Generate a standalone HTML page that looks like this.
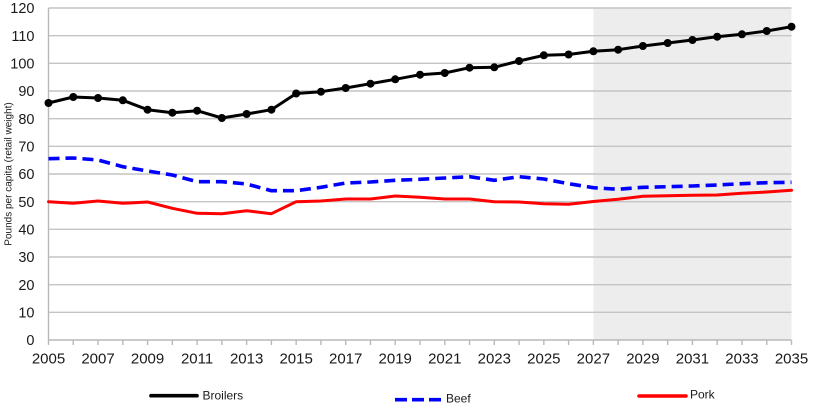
<!DOCTYPE html>
<html>
<head>
<meta charset="utf-8">
<style>
  html, body { margin: 0; padding: 0; background: #ffffff; }
  svg { display: block; }
  text { font-family: "Liberation Sans", Arial, sans-serif; fill: #1a1a1a; }
</style>
</head>
<body>
<svg width="820" height="410" viewBox="0 0 820 410" xmlns="http://www.w3.org/2000/svg">
  <rect x="0" y="0" width="820" height="410" fill="#ffffff"/>
  <!-- projection shading -->
  <rect x="593.4" y="8" width="198.1" height="332" fill="#ededed"/>

  <!-- gridlines -->
  <g stroke="#c4c4c4" stroke-width="1.4">
    <line x1="48.5" y1="8" x2="791.5" y2="8"/>
    <line x1="48.5" y1="35.67" x2="791.5" y2="35.67"/>
    <line x1="48.5" y1="63.33" x2="791.5" y2="63.33"/>
    <line x1="48.5" y1="91" x2="791.5" y2="91"/>
    <line x1="48.5" y1="118.67" x2="791.5" y2="118.67"/>
    <line x1="48.5" y1="146.33" x2="791.5" y2="146.33"/>
    <line x1="48.5" y1="174" x2="791.5" y2="174"/>
    <line x1="48.5" y1="201.67" x2="791.5" y2="201.67"/>
    <line x1="48.5" y1="229.33" x2="791.5" y2="229.33"/>
    <line x1="48.5" y1="257" x2="791.5" y2="257"/>
    <line x1="48.5" y1="284.67" x2="791.5" y2="284.67"/>
    <line x1="48.5" y1="312.33" x2="791.5" y2="312.33"/>
  </g>

  <!-- axes -->
  <g stroke="#b8b8b8" stroke-width="1.4">
    <line x1="48.5" y1="8" x2="48.5" y2="340"/>
    <line x1="48.5" y1="340" x2="791.5" y2="340"/>
    <line x1="48.5" y1="340" x2="48.5" y2="345"/>
    <line x1="73.27" y1="340" x2="73.27" y2="345"/>
    <line x1="98.03" y1="340" x2="98.03" y2="345"/>
    <line x1="122.8" y1="340" x2="122.8" y2="345"/>
    <line x1="147.57" y1="340" x2="147.57" y2="345"/>
    <line x1="172.33" y1="340" x2="172.33" y2="345"/>
    <line x1="197.1" y1="340" x2="197.1" y2="345"/>
    <line x1="221.87" y1="340" x2="221.87" y2="345"/>
    <line x1="246.63" y1="340" x2="246.63" y2="345"/>
    <line x1="271.4" y1="340" x2="271.4" y2="345"/>
    <line x1="296.17" y1="340" x2="296.17" y2="345"/>
    <line x1="320.93" y1="340" x2="320.93" y2="345"/>
    <line x1="345.7" y1="340" x2="345.7" y2="345"/>
    <line x1="370.47" y1="340" x2="370.47" y2="345"/>
    <line x1="395.23" y1="340" x2="395.23" y2="345"/>
    <line x1="420" y1="340" x2="420" y2="345"/>
    <line x1="444.77" y1="340" x2="444.77" y2="345"/>
    <line x1="469.53" y1="340" x2="469.53" y2="345"/>
    <line x1="494.3" y1="340" x2="494.3" y2="345"/>
    <line x1="519.07" y1="340" x2="519.07" y2="345"/>
    <line x1="543.83" y1="340" x2="543.83" y2="345"/>
    <line x1="568.6" y1="340" x2="568.6" y2="345"/>
    <line x1="593.37" y1="340" x2="593.37" y2="345"/>
    <line x1="618.13" y1="340" x2="618.13" y2="345"/>
    <line x1="642.9" y1="340" x2="642.9" y2="345"/>
    <line x1="667.67" y1="340" x2="667.67" y2="345"/>
    <line x1="692.43" y1="340" x2="692.43" y2="345"/>
    <line x1="717.2" y1="340" x2="717.2" y2="345"/>
    <line x1="741.97" y1="340" x2="741.97" y2="345"/>
    <line x1="766.73" y1="340" x2="766.73" y2="345"/>
    <line x1="791.5" y1="340" x2="791.5" y2="345"/>
  </g>

  <!-- y labels -->
  <g font-size="14.5" text-anchor="end">
    <text x="34.5" y="13.2">120</text>
    <text x="34.5" y="40.9">110</text>
    <text x="34.5" y="68.5">100</text>
    <text x="34.5" y="96.2">90</text>
    <text x="34.5" y="123.9">80</text>
    <text x="34.5" y="151.5">70</text>
    <text x="34.5" y="179.2">60</text>
    <text x="34.5" y="206.9">50</text>
    <text x="34.5" y="234.5">40</text>
    <text x="34.5" y="262.2">30</text>
    <text x="34.5" y="289.9">20</text>
    <text x="34.5" y="317.5">10</text>
    <text x="34.5" y="345.2">0</text>
  </g>

  <!-- x labels -->
  <g font-size="15" text-anchor="middle">
    <text x="48.5" y="363.5">2005</text>
    <text x="98.03" y="363.5">2007</text>
    <text x="147.57" y="363.5">2009</text>
    <text x="197.1" y="363.5">2011</text>
    <text x="246.63" y="363.5">2013</text>
    <text x="296.17" y="363.5">2015</text>
    <text x="345.7" y="363.5">2017</text>
    <text x="395.23" y="363.5">2019</text>
    <text x="444.77" y="363.5">2021</text>
    <text x="494.3" y="363.5">2023</text>
    <text x="543.83" y="363.5">2025</text>
    <text x="593.37" y="363.5">2027</text>
    <text x="642.9" y="363.5">2029</text>
    <text x="692.43" y="363.5">2031</text>
    <text x="741.97" y="363.5">2033</text>
    <text x="791.5" y="363.5">2035</text>
  </g>

  <!-- y axis title -->
  <text x="0" y="0" font-size="10" text-anchor="middle" transform="translate(11.5,174) rotate(-90)">Pounds per capita (retail weight)</text>

  <!-- Pork -->
  <polyline fill="none" stroke="#ff0000" stroke-width="3" stroke-linejoin="round" stroke-linecap="round"
    points="48.5,201.7 73.27,203.3 98.03,201 122.8,203.3 147.57,202 172.33,208.3 197.1,213.3 221.87,213.7 246.63,210.7 271.4,213.7 296.17,201.7 320.93,201 345.7,199 370.47,199 395.23,196 420,197.3 444.77,199 469.53,199 494.3,201.7 519.07,202 543.83,203.7 568.6,204.3 593.37,201.5 618.13,199.3 642.9,196.3 667.67,195.7 692.43,195.3 717.2,195 741.97,193.3 766.73,192 791.5,190.3"/>

  <!-- Beef -->
  <polyline fill="none" stroke="#0000ff" stroke-width="3.6" stroke-dasharray="11 6" stroke-linejoin="round"
    points="48.5,158.7 73.27,158 98.03,160 122.8,166.7 147.57,171 172.33,175 197.1,181.7 221.87,181.7 246.63,184 271.4,190.7 296.17,190.7 320.93,187.3 345.7,183 370.47,182 395.23,180.3 420,179.3 444.77,178 469.53,176.7 494.3,180.3 519.07,176.7 543.83,179 568.6,183.7 593.37,187.7 618.13,189.3 642.9,187.3 667.67,186.7 692.43,186 717.2,185 741.97,183.7 766.73,182.7 791.5,182.3"/>

  <!-- Broilers -->
  <polyline fill="none" stroke="#000000" stroke-width="3" stroke-linejoin="round"
    points="48.5,103 73.27,97 98.03,98 122.8,100.3 147.57,109.7 172.33,112.7 197.1,110.7 221.87,118 246.63,114 271.4,109.7 296.17,93.5 320.93,91.7 345.7,88 370.47,83.7 395.23,79.3 420,74.7 444.77,73 469.53,67.7 494.3,67.3 519.07,61 543.83,55.3 568.6,54.5 593.37,51.3 618.13,49.7 642.9,46 667.67,43 692.43,40 717.2,36.7 741.97,34.3 766.73,31 791.5,26.7"/>
  <g fill="#000000">
    <circle cx="48.5" cy="103" r="4"/>
    <circle cx="73.27" cy="97" r="4"/>
    <circle cx="98.03" cy="98" r="4"/>
    <circle cx="122.8" cy="100.3" r="4"/>
    <circle cx="147.57" cy="109.7" r="4"/>
    <circle cx="172.33" cy="112.7" r="4"/>
    <circle cx="197.1" cy="110.7" r="4"/>
    <circle cx="221.87" cy="118" r="4"/>
    <circle cx="246.63" cy="114" r="4"/>
    <circle cx="271.4" cy="109.7" r="4"/>
    <circle cx="296.17" cy="93.5" r="4"/>
    <circle cx="320.93" cy="91.7" r="4"/>
    <circle cx="345.7" cy="88" r="4"/>
    <circle cx="370.47" cy="83.7" r="4"/>
    <circle cx="395.23" cy="79.3" r="4"/>
    <circle cx="420" cy="74.7" r="4"/>
    <circle cx="444.77" cy="73" r="4"/>
    <circle cx="469.53" cy="67.7" r="4"/>
    <circle cx="494.3" cy="67.3" r="4"/>
    <circle cx="519.07" cy="61" r="4"/>
    <circle cx="543.83" cy="55.3" r="4"/>
    <circle cx="568.6" cy="54.5" r="4"/>
    <circle cx="593.37" cy="51.3" r="4"/>
    <circle cx="618.13" cy="49.7" r="4"/>
    <circle cx="642.9" cy="46" r="4"/>
    <circle cx="667.67" cy="43" r="4"/>
    <circle cx="692.43" cy="40" r="4"/>
    <circle cx="717.2" cy="36.7" r="4"/>
    <circle cx="741.97" cy="34.3" r="4"/>
    <circle cx="766.73" cy="31" r="4"/>
    <circle cx="791.5" cy="26.7" r="4"/>
  </g>

  <!-- Legend -->
  <line x1="151" y1="395.7" x2="197" y2="395.7" stroke="#000000" stroke-width="3.6" stroke-linecap="round"/>
  <text x="202.5" y="399.5" font-size="12">Broilers</text>

  <line x1="395" y1="399.7" x2="441" y2="399.7" stroke="#0000ff" stroke-width="3.6" stroke-dasharray="12 5"/>
  <text x="446" y="402.5" font-size="12">Beef</text>

  <line x1="639" y1="396" x2="686" y2="396" stroke="#ff0000" stroke-width="3.6" stroke-linecap="round"/>
  <text x="690" y="398.5" font-size="12">Pork</text>
</svg>
</body>
</html>
